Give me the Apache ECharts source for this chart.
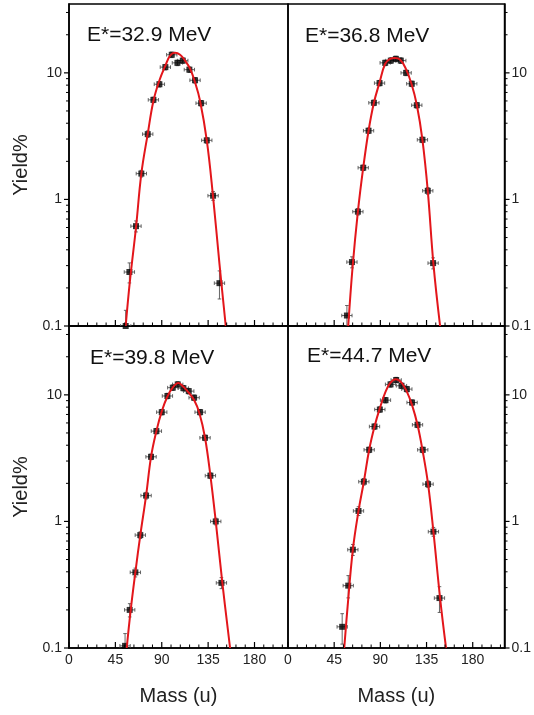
<!DOCTYPE html>
<html><head><meta charset="utf-8">
<script src="https://cdn.jsdelivr.net/npm/echarts@6/dist/echarts.min.js"></script>
<style>html,body{margin:0;padding:0;background:#fff}#c{width:534px;height:715px}</style>
</head><body><div id="c"></div><script>
// ---- data ----
const panelLabels = ['E*=32.9 MeV', 'E*=36.8 MeV', 'E*=39.8 MeV', 'E*=44.7 MeV'];
const xTicks = [0, 45, 90, 135, 180];
const xMinorTicks = [9, 18, 27, 36, 54, 63, 72, 81, 99, 108, 117, 126, 144, 153, 162, 171, 189, 198, 207];
const yTicks = [0.1, 1, 10];
const yTickLabels = ['0.1', '1', '10'];
const yMinorTicks = [0.2, 0.3, 0.4, 0.5, 0.6, 0.7, 0.8, 0.9, 2, 3, 4, 5, 6, 7, 8, 9, 20, 30];

const m1 = [55, 58.6, 65, 70.2, 76.4, 81.9, 87.7, 93.5, 99.7, 105.2, 110.4, 116.8, 122.3, 128.2, 133.7, 139.8, 146];
const y1 = [0.1, 0.267, 0.615, 1.60, 3.28, 6.12, 8.13, 11.1, 13.9, 12.0, 12.5, 10.6, 8.74, 5.76, 2.93, 1.07, 0.218];
const yErr1 = [0.33, 0.18, 0.1, 0.06, 0.06, 0.05, 0.05, 0.05, 0.05, 0.05, 0.05, 0.05, 0.05, 0.05, 0.05, 0.08, 0.25];
const fitM1 = [55, 59.2, 65, 70.2, 76.4, 81.9, 87.7, 93.5, 98.1, 102.9, 107.8, 112.6, 117.5, 122.3, 127.2, 133.7, 139.5, 146, 152.1];
const fitY1 = [0.1, 0.23, 0.60, 1.60, 3.3, 6.0, 8.7, 11.4, 13.7, 14.4, 13.9, 12.5, 10.8, 8.4, 6.0, 2.93, 1.11, 0.31, 0.1];

const m2 = [57.4, 62.3, 68.1, 73.3, 78.5, 83.7, 89.2, 94.7, 100.2, 105.1, 109.9, 115.1, 120.6, 125.5, 131.0, 136.2, 141.4];
const y2 = [0.121, 0.32, 0.80, 1.78, 3.49, 5.8, 8.3, 12.0, 12.5, 12.9, 12.5, 10.0, 8.2, 5.55, 2.96, 1.17, 0.314];
const yErr2 = [0.2, 0.1, 0.06, 0.05, 0.05, 0.05, 0.05, 0.05, 0.05, 0.05, 0.05, 0.05, 0.05, 0.05, 0.05, 0.06, 0.1];
const fitM2 = [58.7, 62.9, 68.1, 73.3, 78.5, 83.7, 89.2, 94.7, 99.5, 104.1, 109.3, 114.8, 120.3, 125.5, 131, 136.2, 141.7, 148.2];
const fitY2 = [0.1, 0.29, 0.80, 1.78, 3.49, 5.8, 8.4, 11.8, 12.9, 13.1, 12.7, 10.8, 8.2, 5.6, 2.96, 1.17, 0.31, 0.1];

const m3 = [54.4, 58.9, 64.4, 69.2, 74.8, 79.6, 84.8, 90.0, 95.5, 100.7, 105.5, 111, 116.2, 121.4, 127.2, 132, 137.2, 142.4, 147.9];
const y3 = [0.104, 0.20, 0.396, 0.78, 1.60, 3.24, 5.17, 7.3, 9.8, 11.4, 12.1, 11.3, 10.7, 9.5, 7.3, 4.58, 2.30, 1.0, 0.327];
const yErr3 = [0.25, 0.12, 0.08, 0.06, 0.06, 0.05, 0.05, 0.05, 0.05, 0.05, 0.05, 0.05, 0.05, 0.05, 0.05, 0.05, 0.05, 0.06, 0.1];
const fitM3 = [56, 59.9, 64.4, 69.2, 74.8, 79.6, 84.8, 90, 95.5, 101.3, 106.1, 111, 116.2, 121.4, 126.5, 132, 137.2, 142.4, 148.8, 156.3];
const fitY3 = [0.1, 0.2, 0.396, 0.78, 1.60, 3.24, 5.17, 7.4, 9.7, 11.6, 12.4, 11.6, 10.4, 9.1, 7.2, 4.58, 2.30, 1.0, 0.327, 0.1];

const m4 = [52.8, 58.7, 63.2, 68.7, 73.9, 79.1, 84.3, 89.5, 95.0, 99.9, 105.4, 110.6, 115.8, 120.9, 126.2, 131.3, 136.5, 141.7, 147.6];
const y4 = [0.147, 0.311, 0.598, 1.21, 2.06, 3.68, 5.62, 7.66, 9.08, 12.1, 13.1, 11.8, 11.1, 8.7, 5.8, 3.68, 1.97, 0.83, 0.248];
const yErr4 = [0.27, 0.2, 0.1, 0.08, 0.06, 0.05, 0.05, 0.05, 0.05, 0.05, 0.05, 0.05, 0.05, 0.05, 0.05, 0.05, 0.06, 0.08, 0.23];
const fitM4 = [54.8, 58.1, 63.2, 68.7, 73.9, 79.1, 84.3, 89.5, 94.7, 99.5, 105.1, 110.6, 115.8, 120.9, 126.2, 131.3, 136.5, 141.7, 148.2, 154];
const fitY4 = [0.1, 0.213, 0.598, 1.21, 2.06, 3.68, 5.62, 7.85, 10.4, 12.4, 13.3, 12.5, 10.6, 8.3, 5.8, 3.57, 1.97, 0.83, 0.248, 0.1];

const xErr = 5;
const yMin = 0.1, yMax = 35;

// ---- chart ----
const FONT = '"Liberation Sans", Arial, sans-serif';
const panels = [
  {m: m1, y: y1, e: yErr1, fm: fitM1, fy: fitY1},
  {m: m2, y: y2, e: yErr2, fm: fitM2, fy: fitY2},
  {m: m3, y: y3, e: yErr3, fm: fitM3, fy: fitY3},
  {m: m4, y: y4, e: yErr4, fm: fitM4, fy: fitY4}
];
const gridBoxes = [
  {left: 69, top: 4, width: 219, height: 322},
  {left: 288, top: 4, width: 217, height: 322},
  {left: 69, top: 326, width: 219, height: 322},
  {left: 288, top: 326, width: 217, height: 322}
];
const xMaxes = [212.5, 211, 212.5, 211];
const labelPos = [[87, 35], [305, 36], [90, 358], [307, 356]];

const grid = [], xAxis = [], yAxis = [], series = [], graphic = [];

function renderErr(params, api) {
  const m = api.value(0), y = api.value(1), dx = api.value(2), f = api.value(3);
  const c = api.coord([m, y]);
  const l = api.coord([m - dx, y]), r = api.coord([m + dx, y]);
  const lo = api.coord([m, Math.max(y * (1 - f), yMin)]), hi = api.coord([m, y * (1 + f)]);
  const st = {stroke: '#555', lineWidth: 0.9};
  const cap = 1.8;
  return {type: 'group', children: [
    {type: 'line', shape: {x1: l[0], y1: c[1], x2: r[0], y2: c[1]}, style: st},
    {type: 'line', shape: {x1: l[0], y1: c[1] - cap, x2: l[0], y2: c[1] + cap}, style: st},
    {type: 'line', shape: {x1: r[0], y1: c[1] - cap, x2: r[0], y2: c[1] + cap}, style: st},
    {type: 'line', shape: {x1: c[0], y1: lo[1], x2: c[0], y2: hi[1]}, style: st},
    {type: 'line', shape: {x1: c[0] - cap, y1: hi[1], x2: c[0] + cap, y2: hi[1]}, style: st},
    {type: 'line', shape: {x1: c[0] - cap, y1: lo[1], x2: c[0] + cap, y2: lo[1]}, style: st}
  ]};
}

// tick marks drawn through the axes' scales: item = [x, y, kind, side]
// kind 0: x major, 1: x minor (pointing up, inside); 2: y major, 3: y minor (outside)
function renderTick(params, api) {
  const x = api.value(0), y = api.value(1), kind = api.value(2), side = api.value(3);
  const c = api.coord([x, y]);
  const st = {stroke: '#000', lineWidth: kind % 2 === 0 ? 1.2 : 1};
  if (kind < 2) {
    const len = kind === 0 ? 6 : 3.5;
    return {type: 'line', shape: {x1: c[0], y1: c[1], x2: c[0], y2: c[1] - len}, style: st};
  }
  const len = kind === 2 ? 5 : 3;
  return {type: 'line', shape: {x1: c[0], y1: c[1], x2: c[0] + side * len, y2: c[1]}, style: st};
}

panels.forEach((p, i) => {
  const isRight = i % 2 === 1, isBottom = i >= 2;
  grid.push(Object.assign({show: true, borderColor: '#000', borderWidth: 1.5, backgroundColor: 'transparent'}, gridBoxes[i]));
  xAxis.push({
    type: 'value', gridIndex: i, min: 0, max: xMaxes[i], position: 'bottom',
    axisLine: {show: true, onZero: false, lineStyle: {color: '#000', width: 1.5}},
    axisTick: {show: false},
    axisLabel: {show: isBottom, customValues: xTicks, margin: 5, fontSize: 14, color: '#222', fontFamily: FONT},
    splitLine: {show: false},
    name: isBottom ? 'Mass (u)' : '', nameLocation: 'middle', nameGap: 38,
    nameTextStyle: {fontSize: 20, color: '#222', fontFamily: FONT}
  });
  yAxis.push({
    type: 'log', logBase: 10, gridIndex: i, min: yMin, max: yMax, position: isRight ? 'right' : 'left',
    axisLine: {show: true, onZero: false, lineStyle: {color: '#000', width: 1.5}},
    axisTick: {show: false},
    axisLabel: {show: true, customValues: yTicks, margin: 7, fontSize: 14, color: '#222', fontFamily: FONT,
      formatter: v => { let best = 0; yTicks.forEach((t, k) => { if (Math.abs(Math.log10(v) - Math.log10(t)) < Math.abs(Math.log10(v) - Math.log10(yTicks[best]))) best = k; }); return yTickLabels[best]; }},
    splitLine: {show: false},
    name: isRight ? '' : 'Yield%', nameLocation: 'middle', nameGap: 38,
    nameTextStyle: {fontSize: 20, color: '#222', fontFamily: FONT}
  });

  const xEdge = isRight ? xMaxes[i] : 0, side = isRight ? 1 : -1;
  const tickData = [].concat(
    xTicks.map(v => [v, yMin, 0, 0]),
    xMinorTicks.map(v => [v, yMin, 1, 0]),
    yTicks.map(v => [xEdge, v, 2, side]),
    yMinorTicks.map(v => [xEdge, v, 3, side])
  );
  series.push({
    type: 'custom', xAxisIndex: i, yAxisIndex: i, renderItem: renderTick, clip: false, silent: true,
    encode: {x: 0, y: 1}, z: 5, data: tickData
  });
  series.push({
    type: 'custom', xAxisIndex: i, yAxisIndex: i, renderItem: renderErr, clip: true,
    encode: {x: 0, y: 1}, z: 2,
    data: p.m.map((v, k) => [v, p.y[k], xErr, p.e[k]])
  });
  series.push({
    type: 'line', xAxisIndex: i, yAxisIndex: i, smooth: 0.4, showSymbol: false, symbol: 'none', clip: true,
    lineStyle: {color: '#e3161b', width: 2}, z: 4,
    data: p.fm.map((v, k) => [v, p.fy[k]])
  });
  series.push({
    type: 'scatter', xAxisIndex: i, yAxisIndex: i, symbol: 'rect', symbolSize: 6, clip: true,
    itemStyle: {color: '#000'}, z: 3,
    data: p.m.map((v, k) => [v, p.y[k]])
  });
  graphic.push({
    type: 'text', x: labelPos[i][0], y: labelPos[i][1], z: 10,
    style: {text: panelLabels[i], font: '21px ' + FONT, fill: '#111', textVerticalAlign: 'middle', textAlign: 'left'}
  });
});

const chart = echarts.init(document.getElementById('c'), null, {renderer: 'canvas'});
chart.setOption({animation: false, backgroundColor: '#fff', grid, xAxis, yAxis, series, graphic});
</script></body></html>
